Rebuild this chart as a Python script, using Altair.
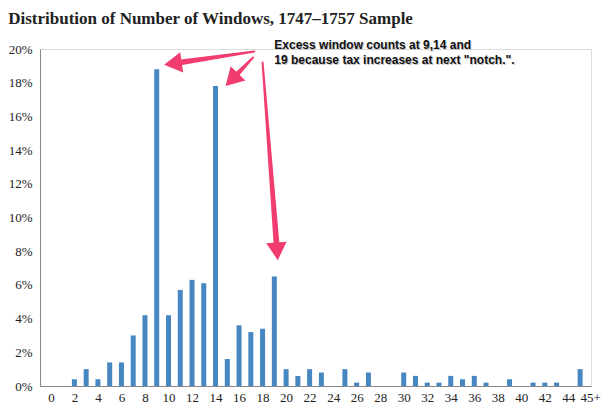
import math

import altair as alt
import pandas as pd

# share of houses (%) by number of windows; last bin is "45+"
windows = list(range(46))
share = [
    0, 0, 0.4, 1.0, 0.4, 1.4, 1.4, 3.0, 4.2, 18.8,
    4.2, 5.7, 6.3, 6.1, 17.8, 1.6, 3.6, 3.2, 3.4, 6.5,
    1.0, 0.6, 1.0, 0.8, 0, 1.0, 0.2, 0.8, 0, 0,
    0.8, 0.6, 0.2, 0.2, 0.6, 0.4, 0.6, 0.2, 0, 0.4,
    0, 0.2, 0.2, 0.2, 0, 1.0,
]
x_ticks = list(range(0, 45, 2)) + [45]
y_ticks = list(range(0, 21, 2))

note = 'Excess window counts at 9,14 and\n19 because tax increases at next "notch.".'
note_pos = (19.0, 20.0)

# arrows: tail (x, y) -> tip (x, y) in data units
arrow_tails = [(17.3, 19.85), (17.2, 19.5), (18.0, 19.2)]
arrow_tips = [(9.55, 19.05), (14.8, 17.75), (19.3, 7.4)]

W, H = 551, 337
PX_X = W / 46
PX_Y = H / 20
PINK = "#f03c6e"
SERIF = "Liberation Serif"

bars = pd.DataFrame({"windows": windows, "share": share})

trail_rows, head_rows = [], []
for i, ((tx, ty), (hx, hy)) in enumerate(zip(arrow_tails, arrow_tips)):
    dx = (hx - tx) * PX_X
    dy = -(hy - ty) * PX_Y
    L = math.hypot(dx, dy)
    ux, uy = dx / L, dy / L
    cx = hx - 10 * ux / PX_X
    cy = hy + 10 * uy / PX_Y
    trail_rows.append({"a": i, "o": 0, "x": tx, "y": ty, "w": 2})
    trail_rows.append({"a": i, "o": 1, "x": cx, "y": cy, "w": 6})
    ang = math.degrees(math.atan2(ux, -uy)) % 360
    head_rows.append({"x": cx, "y": cy, "ang": ang})

x_scale = alt.Scale(domain=[-0.5, 45.5], nice=False, zero=False)
y_scale = alt.Scale(domain=[0, 20], nice=False)

x_axis = alt.Axis(
    values=x_ticks,
    labelExpr="datum.value == 45 ? '45+' : datum.value",
    labelAlign={"condition": {"test": "datum.value == 45", "value": "left"}, "value": "center"},
    ticks=False,
    grid=False,
    title=None,
    labelOverlap=False,
    labelFlush=False,
    labelFont=SERIF,
    labelFontSize=13,
    labelColor="#222",
    labelPadding=5,
    domainColor="#888",
)
y_axis = alt.Axis(
    values=y_ticks,
    labelExpr="datum.value + '%'",
    ticks=False,
    grid=False,
    title=None,
    labelOverlap=False,
    labelFlush=False,
    labelFont=SERIF,
    labelFontSize=13,
    labelColor="#222",
    labelPadding=8,
    domainColor="#888",
)


def xy(xf, yf):
    return dict(
        x=alt.X(xf, scale=x_scale, axis=x_axis),
        y=alt.Y(yf, scale=y_scale, axis=y_axis),
    )


base_bars = alt.Chart(bars).mark_bar(color="#4687c2", size=5).encode(
    **xy("windows:Q", "share:Q")
)

arrows = alt.Chart(pd.DataFrame(trail_rows)).mark_trail(color=PINK).encode(
    **xy("x:Q", "y:Q"),
    size=alt.Size("w:Q", scale=None, legend=None),
    detail="a:N",
    order="o:Q",
)

heads = alt.Chart(pd.DataFrame(head_rows)).mark_point(
    shape="triangle-up", filled=True, size=420, color=PINK, opacity=1
).encode(
    **xy("x:Q", "y:Q"),
    angle=alt.Angle("ang:Q", scale=None),
)

note_df = pd.DataFrame({"x": [note_pos[0]], "y": [note_pos[1]], "t": [note]})
note_style = dict(
    align="left", baseline="alphabetic", lineBreak="\n", lineHeight=15,
    font="Liberation Sans", fontSize=12, fontWeight="bold",
)
note_shadow = alt.Chart(note_df).mark_text(color="#c8c8c8", dx=1, dy=1, **note_style).encode(
    **xy("x:Q", "y:Q"), text="t:N"
)
note_text = alt.Chart(note_df).mark_text(color="#111", **note_style).encode(
    **xy("x:Q", "y:Q"), text="t:N"
)

chart = alt.layer(base_bars, arrows, heads, note_shadow, note_text).properties(
    width=W,
    height=H,
    autosize=alt.AutoSizeParams(type="none"),
    padding={"left": 32, "top": 41, "right": 14, "bottom": 18},
    title=alt.TitleParams(
        "Distribution of Number of Windows, 1747\u20131757 Sample",
        anchor="start",
        frame="bounds",
        font=SERIF,
        fontSize=17,
        fontWeight="bold",
        color="#222",
        baseline="alphabetic",
        offset=-2,
    ),
).configure_view(stroke=None).configure(background="white")

chart.save("out.html", embed_options={"renderer": "svg", "actions": False})
